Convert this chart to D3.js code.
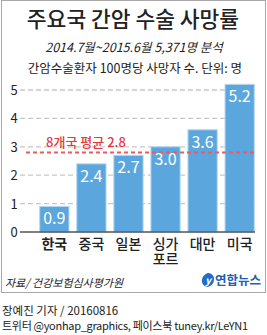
<!DOCTYPE html>
<html>
<head>
<meta charset="utf-8">
<script src="https://cdn.jsdelivr.net/npm/d3@7"></script>
<style>
  body { margin: 0; background: #fff; }
  svg text { font-family: "Noto Sans CJK KR", "Noto Sans", sans-serif; }
</style>
</head>
<body>
<svg id="chart" width="267" height="335"></svg>
<script>
// data
const countries = ["한국", "중국", "일본", "싱가포르", "대만", "미국"]
const deathRates = [0.9, 2.4, 2.7, 3.0, 3.6, 5.2]
const yTicks = [0, 1, 2, 3, 4, 5]
const average = 2.8
const averageLabel = "8개국 평균 2.8"

const svg = d3.select("#chart")

// frame
svg.append("rect")
    .attr("x", 1.5).attr("y", 0.5)
    .attr("width", 264).attr("height", 292)
    .attr("fill", "none").attr("stroke", "#a8a8a8")

// titles
svg.append("text")
    .attr("x", 133).attr("y", 27)
    .attr("text-anchor", "middle")
    .attr("font-size", 21.5).attr("font-weight", 500)
    .attr("fill", "#222")
    .text("주요국 간암 수술 사망률")

svg.append("text")
    .attr("x", 134).attr("y", 52)
    .attr("text-anchor", "middle")
    .attr("font-size", 12.5).attr("font-style", "italic")
    .attr("fill", "#222")
    .text("2014.7월~2015.6월 5,371명 분석")

svg.append("text")
    .attr("x", 135).attr("y", 73)
    .attr("text-anchor", "middle")
    .attr("font-size", 12.5)
    .attr("fill", "#222")
    .text("간암수술환자 100명당 사망자 수. 단위: 명")

// scales
const x = d3.scaleBand()
    .domain(countries)
    .range([36, 258])
    .paddingInner(0.21)
    .paddingOuter(0.1)

const y = d3.scaleLinear()
    .domain([0, 5])
    .range([232, 90])

// grid + y labels
const grid = svg.append("g")
grid.selectAll("line")
    .data(yTicks.filter(d => d > 0))
    .join("line")
    .attr("x1", 20).attr("x2", 255)
    .attr("y1", d => y(d)).attr("y2", d => y(d))
    .attr("stroke", "#c8c8c8").attr("stroke-width", 1.3)
    .attr("stroke-dasharray", "5,3")

grid.selectAll("text")
    .data(yTicks)
    .join("text")
    .attr("x", 14).attr("y", d => y(d) + 5)
    .attr("text-anchor", "middle")
    .attr("font-size", 13)
    .attr("fill", "#222")
    .text(d => d)

// bars
svg.append("g").selectAll("rect")
    .data(deathRates)
    .join("rect")
    .attr("x", (d, i) => x(countries[i]))
    .attr("y", d => y(d))
    .attr("width", x.bandwidth())
    .attr("height", d => y(0) - y(d))
    .attr("fill", "#5ba7dd")
    .attr("stroke", "#b5d8f1").attr("stroke-width", 1)

// baseline
svg.append("line")
    .attr("x1", 20).attr("x2", 255)
    .attr("y1", y(0)).attr("y2", y(0))
    .attr("stroke", "#555").attr("stroke-width", 1.6)

// average line
svg.append("line")
    .attr("x1", 26).attr("x2", 254)
    .attr("y1", y(average)).attr("y2", y(average))
    .attr("stroke", "#ee5a5e").attr("stroke-width", 2)
    .attr("stroke-dasharray", "4,3")

svg.append("text")
    .attr("x", 86).attr("y", y(average) - 5)
    .attr("text-anchor", "middle")
    .attr("font-size", 13).attr("font-weight", 500)
    .attr("fill", "#e23a3e")
    .text(averageLabel)

// values
svg.append("g").selectAll("text")
    .data(deathRates)
    .join("text")
    .attr("x", (d, i) => x(countries[i]) + x.bandwidth() / 2)
    .attr("y", d => y(d) + 18)
    .attr("text-anchor", "middle")
    .attr("font-size", 16)
    .attr("fill", "#fff")
    .text(d => d.toFixed(1))

// category labels
const cats = svg.append("g").selectAll("text")
    .data(countries)
    .join("text")
    .attr("x", d => x(d) + x.bandwidth() / 2)
    .attr("y", 249)
    .attr("text-anchor", "middle")
    .attr("font-size", 14)
    .attr("font-weight", (d, i) => i === 0 ? 700 : 500)
    .attr("fill", "#222")

cats.each(function(d) {
    const lines = d.length > 2 ? [d.slice(0, 2), d.slice(2)] : [d]
    d3.select(this).selectAll("tspan")
        .data(lines)
        .join("tspan")
        .attr("x", x(d) + x.bandwidth() / 2)
        .attr("dy", (l, j) => j === 0 ? 0 : 15)
        .text(l => l)
})

// source
svg.append("text")
    .attr("x", 5).attr("y", 287)
    .attr("font-size", 11).attr("font-style", "italic")
    .attr("fill", "#222")
    .text("자료/ 건강보험심사평가원")

// logo
const logo = svg.append("g")
logo.append("ellipse")
    .attr("cx", 208).attr("cy", 280)
    .attr("rx", 6).attr("ry", 7)
    .attr("transform", "rotate(20,208,280)")
    .attr("fill", "#1f6fc5")
logo.append("text")
    .attr("x", 208).attr("y", 284)
    .attr("text-anchor", "middle")
    .attr("font-size", 10).attr("font-style", "italic").attr("font-weight", 700)
    .attr("fill", "#fff")
    .text("y")
logo.append("text")
    .attr("x", 215).attr("y", 285)
    .attr("font-size", 12.5).attr("font-weight", 700)
    .attr("fill", "#1f5fb0")
    .text("연합뉴스")

// credits
svg.append("text")
    .attr("x", 2).attr("y", 315)
    .attr("font-size", 11.5)
    .attr("fill", "#222")
    .text("장예진 기자 / 20160816")

svg.append("text")
    .attr("x", 2).attr("y", 330)
    .attr("font-size", 11)
    .attr("letter-spacing", -0.3)
    .attr("fill", "#222")
    .text("트위터 @yonhap_graphics, 페이스북 tuney.kr/LeYN1")
</script>
</body>
</html>
